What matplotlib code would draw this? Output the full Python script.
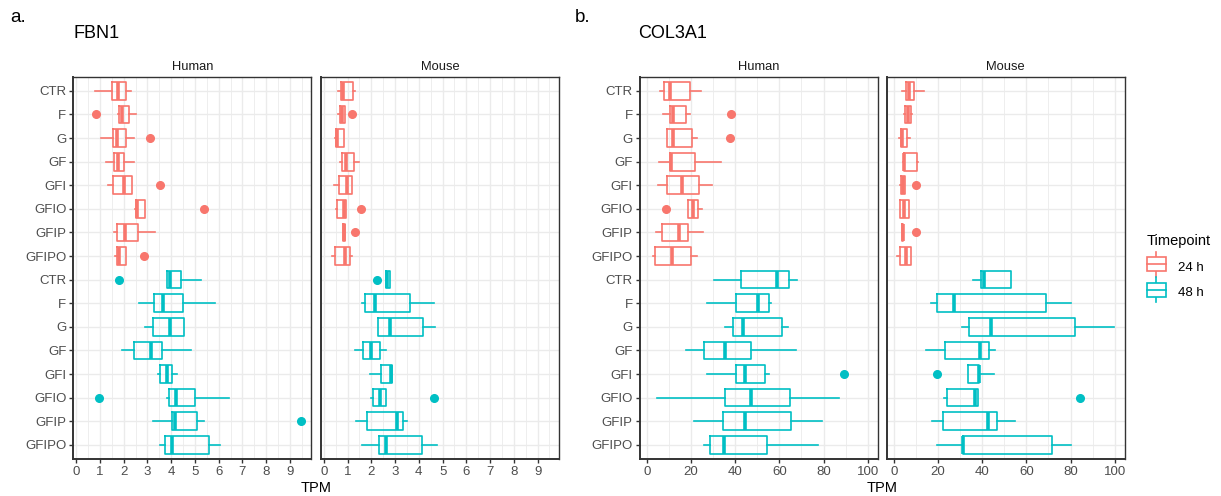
import matplotlib
matplotlib.use('Agg')
import matplotlib.pyplot as plt
from matplotlib.legend_handler import HandlerBase
from matplotlib.patches import Rectangle
from matplotlib.lines import Line2D
from matplotlib.ticker import MultipleLocator

plt.rcParams['font.family'] = ['Liberation Sans', 'DejaVu Sans']

treatments = ['CTR', 'F', 'G', 'GF', 'GFI', 'GFIO', 'GFIP', 'GFIPO']
timepoints = ['24 h', '48 h']
colors = ['#F8766D', '#00BFC4']

# box stats per treatment: [whisker low, q1, median, q3, whisker high]
fbn1_human_24 = [[0.80, 1.50, 1.76, 2.09, 2.29], [1.78, 1.80, 1.94, 2.22, 2.53],
                 [1.05, 1.54, 1.74, 2.09, 2.43], [1.24, 1.59, 1.77, 2.01, 2.43],
                 [1.33, 1.56, 2.01, 2.36, 2.36], [2.46, 2.50, 2.57, 2.88, 2.88],
                 [1.60, 1.73, 2.05, 2.61, 3.34], [1.64, 1.70, 1.80, 2.08, 2.08]]
fbn1_human_24_out = [[], [0.84], [3.13], [], [3.54], [5.38], [], [2.84]]
fbn1_human_48 = [[3.81, 3.81, 3.95, 4.41, 5.25], [2.65, 3.29, 3.67, 4.51, 5.84],
                 [2.89, 3.24, 3.97, 4.56, 4.56], [1.94, 2.44, 3.16, 3.60, 4.83],
                 [3.46, 3.54, 3.83, 4.04, 4.23], [3.83, 3.93, 4.19, 5.00, 6.43],
                 [3.23, 4.02, 4.16, 5.07, 5.37], [3.55, 3.74, 4.04, 5.59, 6.04]]
fbn1_human_48_out = [[1.80], [], [], [], [], [0.96], [9.45], []]
fbn1_mouse_24 = [[0.60, 0.71, 0.80, 1.22, 1.33], [0.60, 0.67, 0.77, 0.87, 0.87],
                 [0.48, 0.53, 0.56, 0.83, 0.83], [0.67, 0.77, 0.95, 1.29, 1.46],
                 [0.43, 0.62, 0.98, 1.18, 1.18], [0.50, 0.55, 0.85, 0.95, 0.95],
                 [0.81, 0.81, 0.85, 0.87, 0.87], [0.34, 0.49, 0.88, 1.11, 1.19]]
fbn1_mouse_24_out = [[], [1.19], [], [], [], [1.58], [1.30], []]
fbn1_mouse_48 = [[2.60, 2.60, 2.67, 2.80, 2.80], [1.62, 1.75, 2.14, 3.64, 4.62],
                 [2.27, 2.28, 2.80, 4.19, 4.66], [1.32, 1.65, 1.99, 2.38, 2.60],
                 [1.96, 2.39, 2.81, 2.86, 2.86], [2.00, 2.06, 2.38, 2.62, 2.62],
                 [1.34, 1.83, 3.08, 3.33, 3.50], [1.61, 2.34, 2.62, 4.14, 4.76]]
fbn1_mouse_48_out = [[2.23], [], [], [], [], [4.62], [], []]

col3a1_human_24 = [[5.8, 7.6, 10.5, 19.3, 24.3], [7.3, 10.3, 11.7, 17.9, 19.7],
                   [9.1, 9.1, 11.8, 20.6, 22.5], [5.6, 10.2, 10.8, 21.7, 33.5],
                   [5.0, 9.0, 15.9, 23.7, 29.4], [18.8, 18.8, 20.9, 23.2, 25.0],
                   [3.9, 6.8, 14.3, 18.5, 25.3], [2.9, 3.8, 11.5, 19.9, 22.5]]
col3a1_human_24_out = [[], [38.1], [37.8], [], [], [8.6], [], []]
col3a1_human_48 = [[30.5, 42.8, 59.0, 64.2, 68.0], [27.2, 40.5, 50.4, 55.4, 56.0],
                   [35.5, 38.8, 43.7, 61.2, 63.9], [17.9, 25.8, 35.2, 47.2, 67.6],
                   [27.2, 40.5, 44.3, 53.3, 55.1], [4.6, 35.4, 47.3, 64.6, 87.1],
                   [21.1, 34.6, 44.6, 65.2, 79.5], [25.9, 28.5, 34.9, 54.3, 77.4]]
col3a1_human_48_out = [[], [], [], [], [89.2], [], [], []]
col3a1_mouse_24 = [[3.8, 5.3, 7.0, 9.1, 13.5], [4.5, 5.0, 6.2, 7.6, 8.3],
                   [2.4, 3.2, 3.8, 5.9, 7.4], [3.9, 4.4, 4.7, 10.6, 11.0],
                   [2.9, 3.2, 4.1, 4.8, 4.8], [2.7, 2.7, 4.5, 7.0, 7.0],
                   [3.7, 3.7, 4.1, 4.3, 4.3], [1.5, 2.7, 5.3, 7.7, 7.7]]
col3a1_mouse_24_out = [[], [], [], [], [9.8], [], [9.8], []]
col3a1_mouse_48 = [[35.6, 39.5, 41.0, 53.0, 53.0], [16.9, 19.7, 27.2, 69.0, 80.0],
                   [30.6, 34.2, 43.9, 82.1, 99.8], [14.5, 23.0, 39.2, 43.0, 46.0],
                   [33.6, 33.6, 38.3, 38.7, 45.5], [22.7, 23.9, 36.6, 38.1, 38.1],
                   [17.1, 22.1, 42.7, 46.9, 54.9], [19.7, 31.3, 31.5, 71.6, 80.0]]
col3a1_mouse_48_out = [[], [], [], [], [19.4], [84.1], [], []]

W, H = 1221, 496
fig = plt.figure(figsize=(W / 100, H / 100), dpi=100)


def px_axes(x0, x1, y0, y1):
    return fig.add_axes([x0 / W, 1 - y1 / H, (x1 - x0) / W, (y1 - y0) / H])


def make_stats(rows, outs):
    return [dict(whislo=r[0], q1=r[1], med=r[2], q3=r[3], whishi=r[4], fliers=o)
            for r, o in zip(rows, outs)]


def draw_panel(ax, data, xlim, major, minor, show_y):
    n = len(treatments)
    for k, (rows, outs) in enumerate(data):
        c = colors[k]
        pos = [k * n + i + 1 for i in range(n)]
        kw = dict(positions=pos, widths=0.75, showcaps=False,
                  boxprops=dict(color=c, linewidth=1.2),
                  whiskerprops=dict(color=c, linewidth=1.2),
                  medianprops=dict(color=c, linewidth=2.6),
                  flierprops=dict(marker='o', markerfacecolor=c, markeredgecolor=c,
                                  markersize=5.5, linestyle='none'),
                  manage_ticks=False)
        try:
            ax.bxp(make_stats(rows, outs), orientation='horizontal', **kw)
        except TypeError:
            ax.bxp(make_stats(rows, outs), vert=False, **kw)
    ax.set_xlim(*xlim)
    ax.set_ylim(2 * n + 0.6, 0.4)
    ax.xaxis.set_major_locator(MultipleLocator(major))
    ax.xaxis.set_minor_locator(MultipleLocator(minor))
    ax.set_yticks(range(1, 2 * n + 1))
    ax.set_yticklabels(treatments * 2 if show_y else [])
    ax.set_axisbelow(True)
    ax.grid(which='major', color='#EBEBEB', linewidth=1.0)
    ax.grid(which='minor', axis='x', color='#EBEBEB', linewidth=0.6)
    ax.tick_params(which='major', length=3, width=1.0, color='#333333',
                   labelcolor='#4D4D4D', labelsize=9.5, pad=2)
    ax.tick_params(which='minor', length=0)
    if not show_y:
        ax.tick_params(axis='y', length=0)
    for s in ax.spines.values():
        s.set_color('#333333')
        s.set_linewidth(1.0)
    for s in ('left', 'bottom'):
        ax.spines[s].set_linewidth(1.4)


panels = [
    (73.3, 311.3, [(fbn1_human_24, fbn1_human_24_out), (fbn1_human_48, fbn1_human_48_out)],
     (-0.12, 9.9), 1, 0.5, True, 'Human'),
    (321.0, 559.0, [(fbn1_mouse_24, fbn1_mouse_24_out), (fbn1_mouse_48, fbn1_mouse_48_out)],
     (-0.12, 9.9), 1, 0.5, False, 'Mouse'),
    (639.5, 878.0, [(col3a1_human_24, col3a1_human_24_out), (col3a1_human_48, col3a1_human_48_out)],
     (-3.4, 104.7), 20, 10, True, 'Human'),
    (886.5, 1125.0, [(col3a1_mouse_24, col3a1_mouse_24_out), (col3a1_mouse_48, col3a1_mouse_48_out)],
     (-3.4, 104.7), 20, 10, False, 'Mouse'),
]
top, bottom = 76.7, 459.0
for x0, x1, data, xlim, major, minor, show_y, strip in panels:
    ax = px_axes(x0, x1, top, bottom)
    draw_panel(ax, data, xlim, major, minor, show_y)
    ax.set_title(strip, fontsize=9.3, color='#1A1A1A', pad=5)

# labels
fig.text(10 / W, 1 - 18 / H, 'a.', fontsize=13.5, va='center', ha='left')
fig.text(575 / W, 1 - 18 / H, 'b.', fontsize=13.5, va='center', ha='left')
fig.text(73.5 / W, 1 - 33.5 / H, 'FBN1', fontsize=13, va='center', ha='left')
fig.text(638.5 / W, 1 - 33.5 / H, 'COL3A1', fontsize=13, va='center', ha='left')
fig.text(316 / W, 1 - 488.5 / H, 'TPM', fontsize=10.5, va='center', ha='center')
fig.text(882 / W, 1 - 488.5 / H, 'TPM', fontsize=10.5, va='center', ha='center')


class BoxKeyHandler(HandlerBase):
    def create_artists(self, legend, orig_handle, xdescent, ydescent, width, height,
                       fontsize, trans):
        c = orig_handle.get_color()
        bw, bh = width, height * 1.1
        bx, by = 0, (height - bh) / 2
        rect = Rectangle((bx, by), bw, bh, facecolor='white', edgecolor=c,
                         linewidth=1.2, transform=trans)
        mid = Line2D([bx, bx + bw], [height / 2, height / 2], color=c, linewidth=1.2,
                     transform=trans)
        w1 = Line2D([bw / 2, bw / 2], [by + bh, by + bh + 4], color=c, linewidth=1.2,
                    transform=trans)
        w2 = Line2D([bw / 2, bw / 2], [by, by - 4], color=c, linewidth=1.2,
                    transform=trans)
        return [w1, w2, rect, mid]


handles = [Line2D([], [], color=c) for c in colors]
leg = fig.legend(handles, timepoints, loc='upper left',
                 bbox_to_anchor=(1135 / W, 1 - 222 / H), frameon=False,
                 title='Timepoint', title_fontsize=10.5, fontsize=9.5,
                 handler_map={Line2D: BoxKeyHandler()}, handlelength=1.45,
                 handleheight=1.1, labelspacing=0.9, handletextpad=0.9)
leg._legend_box.align = 'left'

fig.savefig('out.png', dpi=100)
